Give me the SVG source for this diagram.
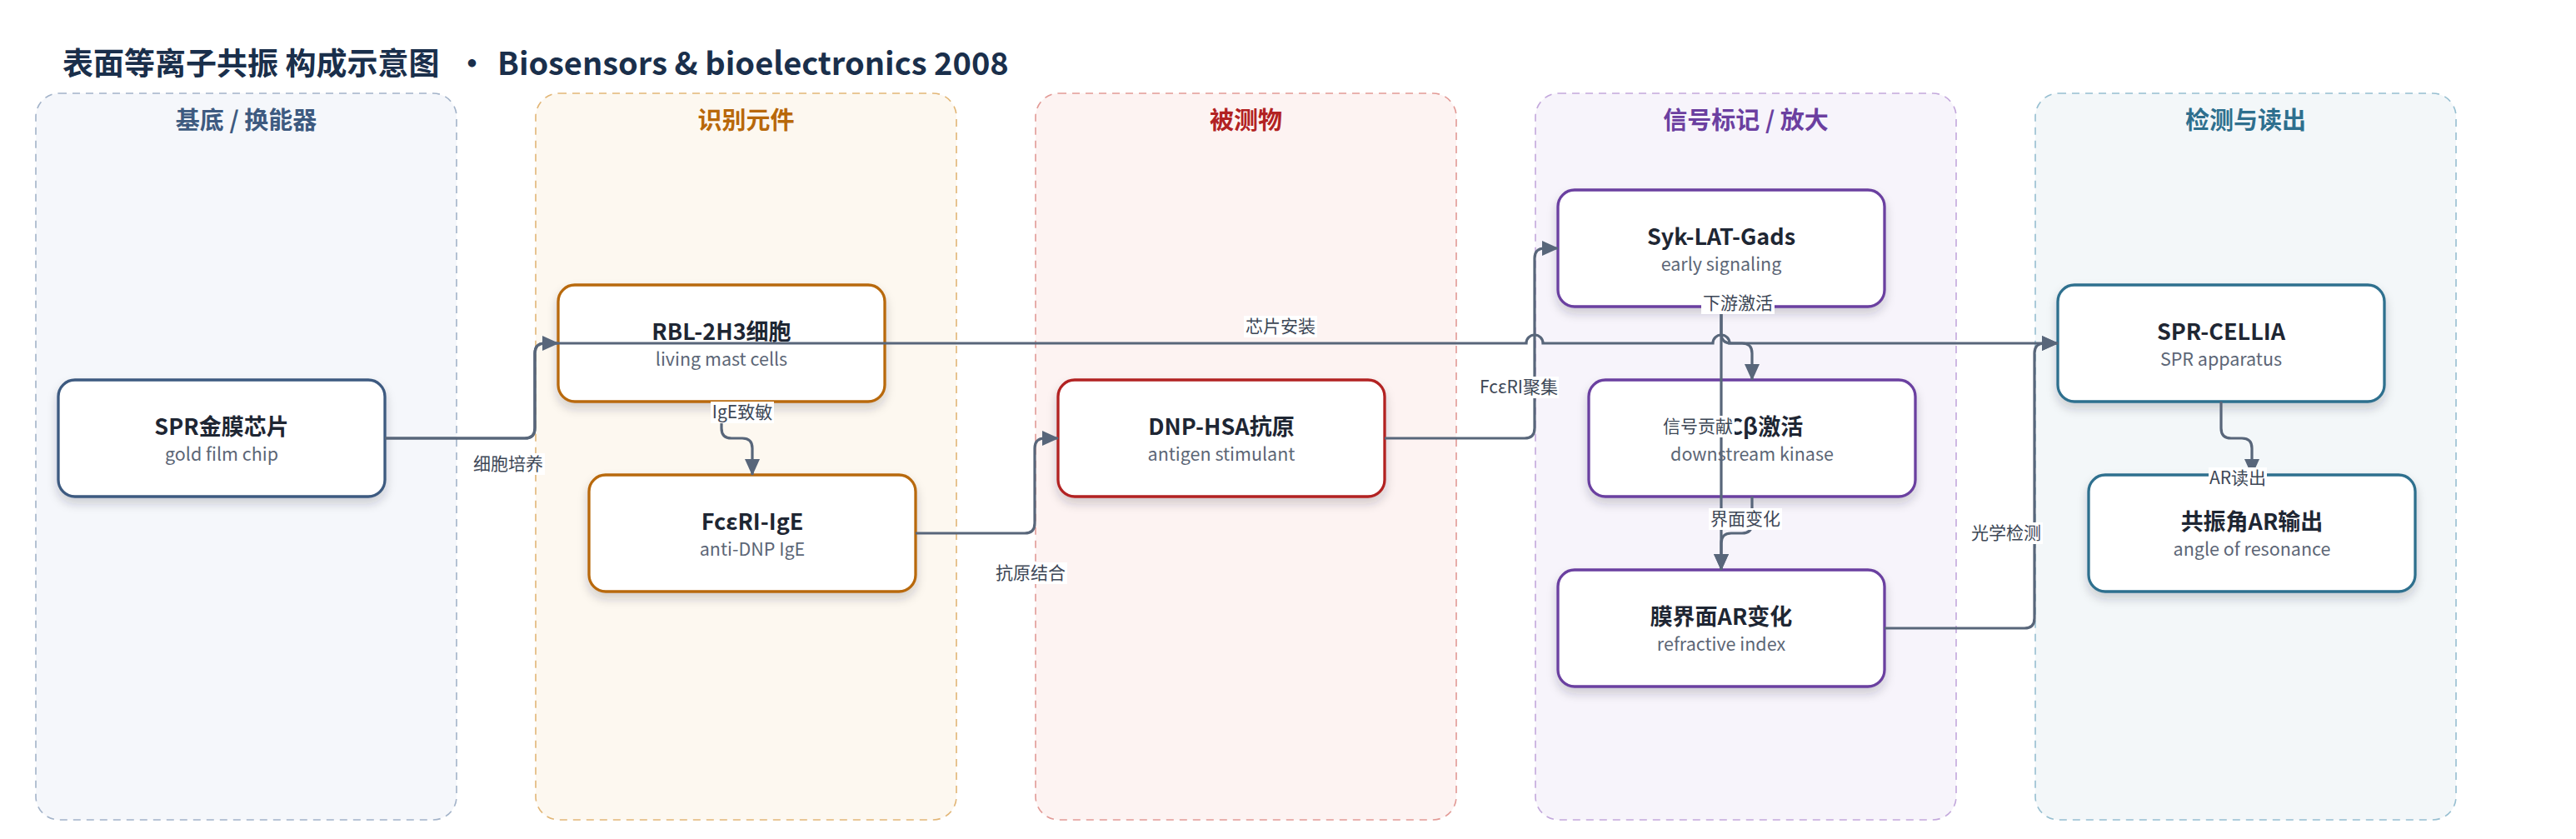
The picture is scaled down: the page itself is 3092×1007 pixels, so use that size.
<svg xmlns="http://www.w3.org/2000/svg" width="3092" height="1007" viewBox="0 0 3092 1007">
<defs>
<style>
text{font-family:"Noto Sans CJK SC","Noto Sans",sans-serif;}
.title{font-size:37px;font-weight:700;fill:#1a2f4b;}
.lane{stroke-width:1.6;stroke-dasharray:9 7;}
.lt{font-size:29px;font-weight:700;text-anchor:middle;}
.node rect{fill:#fff;stroke-width:3.3;filter:url(#sh);}
.nt{font-size:27px;font-weight:700;fill:#1e2633;text-anchor:middle;}
.ns{font-size:21.5px;fill:#5c6676;text-anchor:middle;}
.edge{fill:none;stroke:#58667a;stroke-width:3.2;}
.arr{marker-end:url(#ah);}
.lb rect{fill:#fff;}
.lb text{font-size:21px;fill:#3d4756;text-anchor:middle;}
</style>
<filter id="sh" x="-10%" y="-10%" width="120%" height="140%">
<feDropShadow dx="0" dy="7" stdDeviation="6" flood-color="#1e2633" flood-opacity="0.2"/>
</filter>
<marker id="ah" markerUnits="userSpaceOnUse" viewBox="0 0 20 18" refX="19" refY="9" markerWidth="20" markerHeight="18" orient="auto">
<path d="M0,0 L20,9 L0,18 z" fill="#58667a"/>
</marker>
</defs>
<rect width="3092" height="1007" fill="#fff"/>
<text class="title"><tspan x="75" y="90">表面等离子共振 构成示意图</tspan><tspan x="548" y="90">•</tspan><tspan x="597" y="90" style="font-size:38px">Biosensors &amp; bioelectronics 2008</tspan></text>

<g id="lanes">
<g id="lane-substrate"><rect class="lane" x="43" y="112" width="505" height="872" rx="28" fill="#f5f7fb" stroke="#a3b3c9"/><text class="lt" x="295.5" y="155" fill="#3d5a80">基底 / 换能器</text></g>
<g id="lane-recognition"><rect class="lane" x="643" y="112" width="505" height="872" rx="28" fill="#fdf8f0" stroke="#e2b677"/><text class="lt" x="895.5" y="155" fill="#b8680a">识别元件</text></g>
<g id="lane-analyte"><rect class="lane" x="1243" y="112" width="505" height="872" rx="28" fill="#fdf3f2" stroke="#e29a96"/><text class="lt" x="1495.5" y="155" fill="#b22222">被测物</text></g>
<g id="lane-signal"><rect class="lane" x="1843" y="112" width="505" height="872" rx="28" fill="#f7f4fb" stroke="#c3a8dc"/><text class="lt" x="2095.5" y="155" fill="#6b3fa0">信号标记 / 放大</text></g>
<g id="lane-readout"><rect class="lane" x="2443" y="112" width="505" height="872" rx="28" fill="#f3f7f9" stroke="#97bfd1"/><text class="lt" x="2695.5" y="155" fill="#2e6f8e">检测与读出</text></g>
</g>

<g id="nodes">
<g id="n-chip" class="node"><rect x="70" y="456" width="392" height="140" rx="20" stroke="#3d5a80"/><text class="nt" x="266" y="522">SPR金膜芯片</text><text class="ns" x="266" y="553">gold film chip</text></g>
<g id="n-rbl" class="node"><rect x="670" y="342" width="392" height="140" rx="20" stroke="#b8690a"/><text class="nt" x="866" y="408">RBL-2H3细胞</text><text class="ns" x="866" y="439">living mast cells</text></g>
<g id="n-fce" class="node"><rect x="707" y="570" width="392" height="140" rx="20" stroke="#b8690a"/><text class="nt" x="903" y="636">FcεRI-IgE</text><text class="ns" x="903" y="667">anti-DNP IgE</text></g>
<g id="n-dnp" class="node"><rect x="1270" y="456" width="392" height="140" rx="20" stroke="#b22222"/><text class="nt" x="1466" y="522">DNP-HSA抗原</text><text class="ns" x="1466" y="553">antigen stimulant</text></g>
<g id="n-syk" class="node"><rect x="1870" y="228" width="392" height="140" rx="20" stroke="#6b3fa0"/><text class="nt" x="2066" y="294">Syk-LAT-Gads</text><text class="ns" x="2066" y="325">early signaling</text></g>
<g id="n-plc" class="node"><rect x="1907" y="456" width="392" height="140" rx="20" stroke="#6b3fa0"/><text class="nt" x="2103" y="522">PLCβ激活</text><text class="ns" x="2103" y="553">downstream kinase</text></g>
<g id="n-ar" class="node"><rect x="1870" y="684" width="392" height="140" rx="20" stroke="#6b3fa0"/><text class="nt" x="2066" y="750">膜界面AR变化</text><text class="ns" x="2066" y="781">refractive index</text></g>
<g id="n-cellia" class="node"><rect x="2470" y="342" width="392" height="140" rx="20" stroke="#2e6f8e"/><text class="nt" x="2666" y="408">SPR-CELLIA</text><text class="ns" x="2666" y="439">SPR apparatus</text></g>
<g id="n-out" class="node"><rect x="2507" y="570" width="392" height="140" rx="20" stroke="#2e6f8e"/><text class="nt" x="2703" y="636">共振角AR输出</text><text class="ns" x="2703" y="667">angle of resonance</text></g>
</g>

<g id="connectors">
<path class="edge arr" d="M462,526 H630 Q642,526 642,514 V424 Q642,412 654,412 H670"/>
<path class="edge arr" d="M462,526 H630 Q642,526 642,514 V424 Q642,412 654,412 H1832 A10,10 0 0 1 1852,412 H2056 A10,10 0 0 1 2076,412 H2470"/>
<path class="edge arr" d="M866,482 V514 Q866,526 878,526 H891 Q903,526 903,538 V570"/>
<path class="edge arr" d="M1099,640 H1230 Q1242,640 1242,628 V538 Q1242,526 1254,526 H1270"/>
<path class="edge arr" d="M1662,526 H1830 Q1842,526 1842,514 V310 Q1842,298 1854,298 H1870"/>
<path class="edge arr" d="M2066,368 V400 Q2066,412 2078,412 H2091 Q2103,412 2103,424 V456"/>
<path class="edge arr" d="M2066,368 V684"/>
<path class="edge arr" d="M2103,596 V628 Q2103,640 2091,640 H2078 Q2066,640 2066,652 V684"/>
<path class="edge arr" d="M2262,754 H2430 Q2442,754 2442,742 V424 Q2442,412 2454,412 H2470"/>
<path class="edge arr" d="M2666,482 V514 Q2666,526 2678,526 H2691 Q2703,526 2703,538 V570"/>
<g class="lb"><rect x="566" y="544" width="88" height="26"/><text x="610" y="564">细胞培养</text></g>
<g class="lb"><rect x="1493" y="379" width="88" height="26"/><text x="1537" y="399">芯片安装</text></g>
<g class="lb"><rect x="853" y="482" width="76" height="26"/><text x="891" y="502">IgE致敏</text></g>
<g class="lb"><rect x="1193" y="675" width="88" height="26"/><text x="1237" y="695">抗原结合</text></g>
<g class="lb"><rect x="1775" y="452" width="96" height="26"/><text x="1823" y="472">FcεRI聚集</text></g>
<g class="lb"><rect x="2042" y="351" width="88" height="26"/><text x="2086" y="371">下游激活</text></g>
<g class="lb"><rect x="1994" y="499" width="88" height="26"/><text x="2038" y="519">信号贡献</text></g>
<g class="lb"><rect x="2051" y="610" width="88" height="26"/><text x="2095" y="630">界面变化</text></g>
<g class="lb"><rect x="2364" y="627" width="88" height="26"/><text x="2408" y="647">光学检测</text></g>
<g class="lb"><rect x="2651" y="561" width="70" height="26"/><text x="2686" y="581">AR读出</text></g>
</g>
</svg>
